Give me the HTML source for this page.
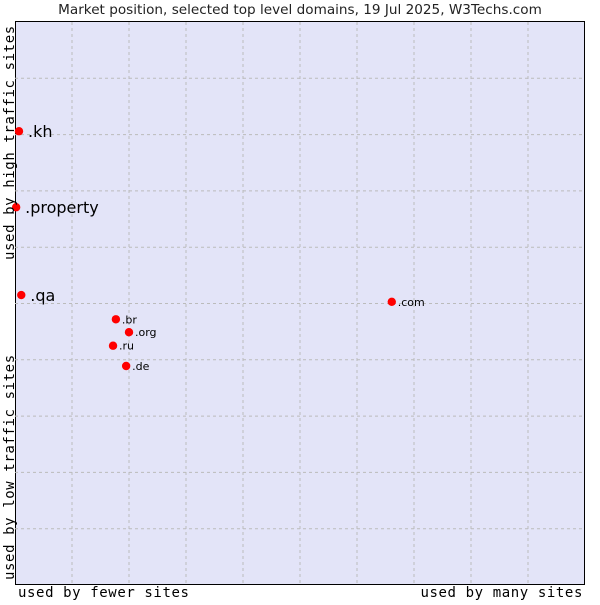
<!DOCTYPE html>
<html><head><meta charset="utf-8"><style>
body{margin:0;background:#fff;}
svg text{font-family:"DejaVu Sans","Liberation Sans",sans-serif;}
.mono{font-family:"DejaVu Sans Mono","Liberation Mono",monospace;letter-spacing:0.6px;}
</style></head><body>
<svg id="chart" width="600" height="600">
<text x="300" y="14" text-anchor="middle" font-size="13.6" fill="#222">Market position, selected top level domains, 19 Jul 2025, W3Techs.com</text>
<rect x="15.5" y="21.5" width="569" height="563" fill="#e3e4f8" stroke="#000" stroke-width="1"/>
<g id="grid"></g>
<g id="points"></g>
<text class="mono" x="18" y="597" font-size="14" fill="#000">used by fewer sites</text>
<text class="mono" x="583" y="597" font-size="14" text-anchor="end" fill="#000">used by many sites</text>
<text class="mono" transform="translate(14,580) rotate(-90)" font-size="14" fill="#000">used by low traffic sites</text>
<text class="mono" transform="translate(14,260) rotate(-90)" font-size="14" fill="#000">used by high traffic sites</text>
</svg>
<script>
const labels=[".kh",".property",".qa",".com",".br",".org",".ru",".de"];
const xValues=[0.7,0.2,1.1,66.1,17.7,20.0,17.2,19.5];
const yValues=[80.6,67.1,51.5,50.3,47.2,44.9,42.5,38.9];
const bigLabel=[true,true,true,false,false,false,false,false];
const X0=15,X1=585,Y0=585,Y1=22;
const sx=v=>X0+v/100*(X1-X0);
const sy=v=>Y0-v/100*(Y0-Y1);
const NS="http://www.w3.org/2000/svg";
const grid=document.getElementById('grid');
for(let i=1;i<10;i++){
  const v=i*10;
  const lx=document.createElementNS(NS,'line');
  
  
  lx.setAttribute('x1',sx(v));lx.setAttribute('x2',sx(v));lx.setAttribute('y1',Y1);lx.setAttribute('y2',Y0);
  lx.setAttribute('stroke','#bbb');lx.setAttribute('stroke-dasharray','3,3');
  grid.appendChild(lx);
  const ly=document.createElementNS(NS,'line');
  
  
  ly.setAttribute('y1',sy(v));ly.setAttribute('y2',sy(v));ly.setAttribute('x1',X0);ly.setAttribute('x2',X1);
  ly.setAttribute('stroke','#bbb');ly.setAttribute('stroke-dasharray','3,3');
  grid.appendChild(ly);
}
const pts=document.getElementById('points');
labels.forEach((l,i)=>{
  const x=sx(xValues[i]),y=sy(yValues[i]);
  const p=document.createElementNS(NS,'circle');
  
  
  p.setAttribute('cx',x);p.setAttribute('cy',y);p.setAttribute('r',4.2);p.setAttribute('fill','#f00');
  pts.appendChild(p);
  const t=document.createElementNS(NS,'text');
  
  
  const big=bigLabel[i];
  t.setAttribute('x',x+(big?9:6));t.setAttribute('y',y+(big?6:4));
  t.setAttribute('font-size',big?16:11);t.setAttribute('fill','#000');
  t.textContent=l;
  pts.appendChild(t);
});
</script>
</body></html>
